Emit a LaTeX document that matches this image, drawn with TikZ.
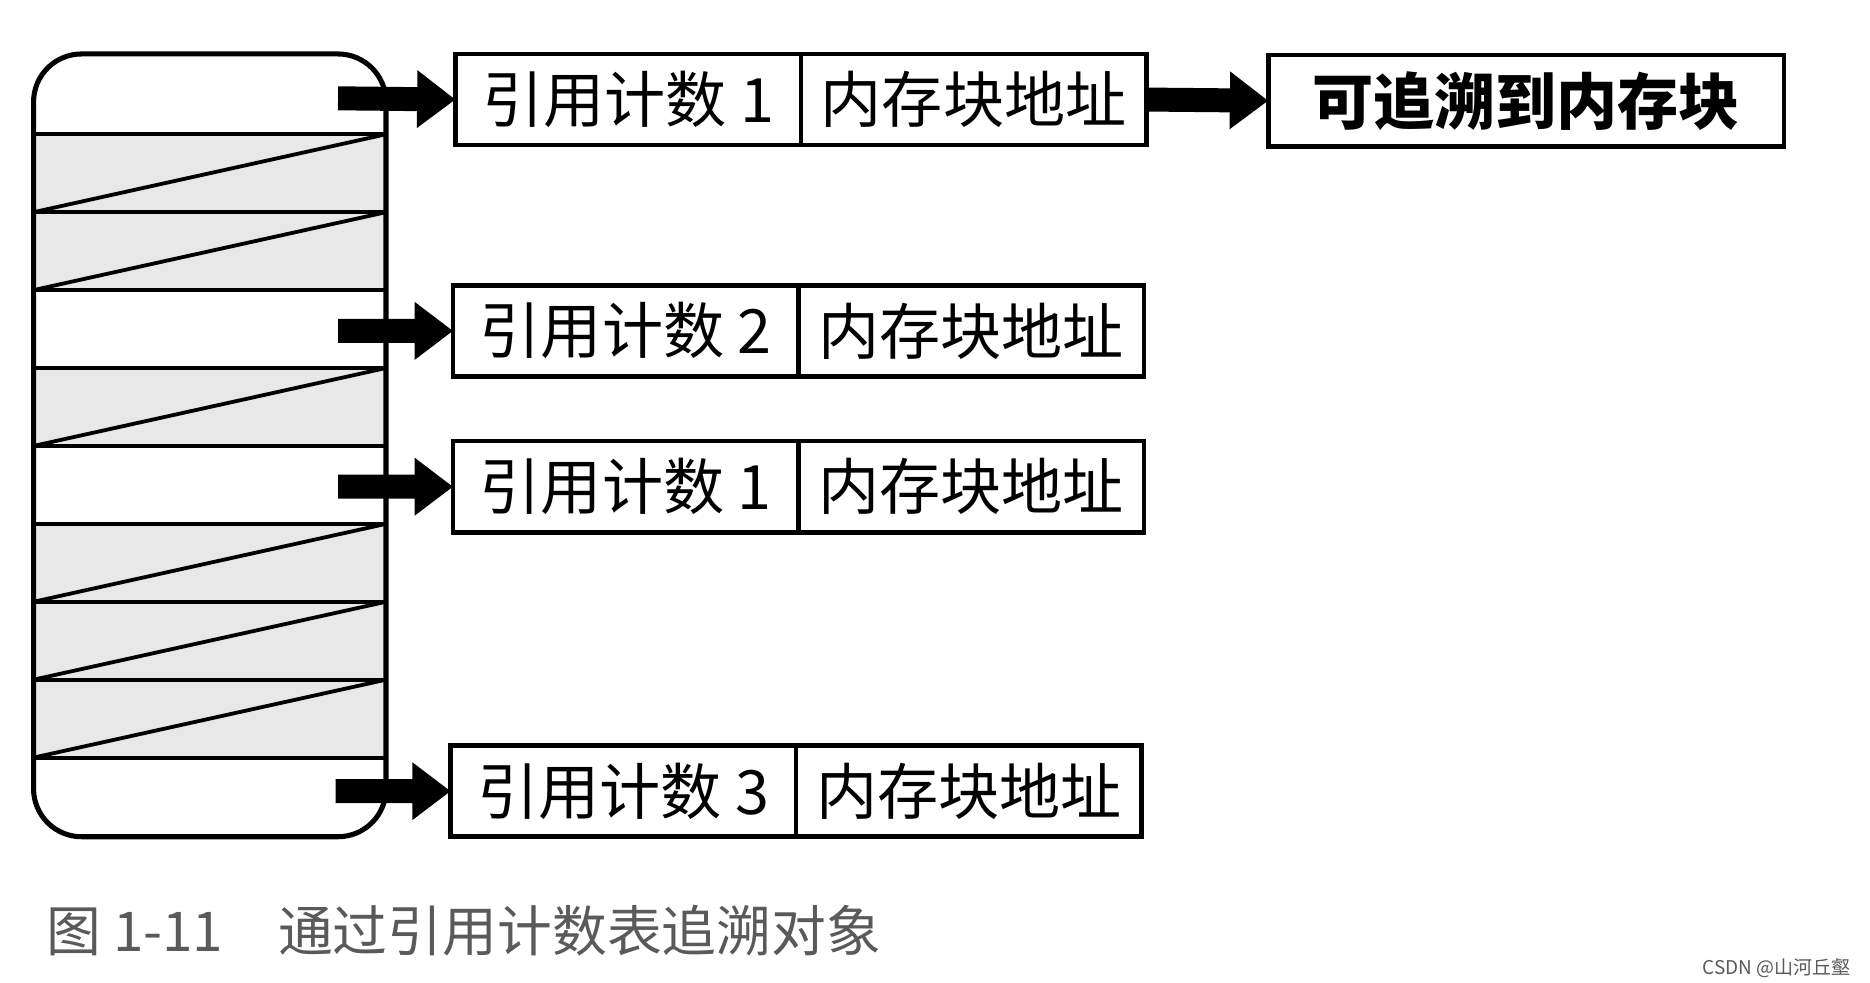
\documentclass[tikz,border=0pt]{standalone}
\usepackage{fontspec}
\setmainfont{Noto Sans CJK SC}
\usetikzlibrary{arrows.meta, positioning}
\definecolor{rowgray}{RGB}{232, 232, 232}
\definecolor{capgray}{RGB}{90, 90, 90}
\begin{document}
\begin{tikzpicture}[
    x=0.01cm, y=-0.01cm,
    cell/.style={rectangle, draw, line width=1.1pt, minimum height=0.76cm, inner sep=0pt, outer sep=0pt, font=\fontsize{14.5}{15}\selectfont},
    countbox/.style={cell, minimum width=2.88cm},
    addrbox/.style={cell, minimum width=2.88cm},
    fatarrow/.style={-{Triangle[length=0.32cm, width=0.46cm]}, line width=0.2cm}
]
    \useasboundingbox (0,0) rectangle (1560,820);
    % table rows
    \foreach \t in {112,177,307,437,502,567}
        \fill[rowgray] (28,\t) rectangle (322,\t+65);
    \foreach \t in {112,177,307,437,502,567}
        \draw[line width=0.9pt] (28,\t+65) -- (322,\t);
    \foreach \t in {112,177,242,307,372,437,502,567,632}
        \draw[line width=0.9pt] (28,\t) -- (322,\t);
    \draw[line width=1.2pt, rounded corners=0.4cm] (28,45) rectangle (322,698);

    % entries
    \node[countbox, anchor=north west] (cnt1) at (380,45) {引用计数 1};
    \node[addrbox, right=0pt of cnt1] (addr1) {内存块地址};
    \node[countbox, anchor=north west] (cnt2) at (378,238) {引用计数 2};
    \node[addrbox, right=0pt of cnt2] (addr2) {内存块地址};
    \node[countbox, anchor=north west] (cnt3) at (378,368) {引用计数 1};
    \node[addrbox, right=0pt of cnt3] (addr3) {内存块地址};
    \node[countbox, anchor=north west] (cnt4) at (376,622) {引用计数 3};
    \node[addrbox, right=0pt of cnt4] (addr4) {内存块地址};
    \node[cell, minimum width=4.3cm, font=\fontsize{14.5}{15}\selectfont\bfseries, anchor=north west] (block) at (1058,46) {可追溯到内存块};

    % arrows
    \coordinate (from1) at (282,82);
    \coordinate (from2) at (282,276);
    \coordinate (from3) at (282,406);
    \coordinate (from4) at (280,660);
    \draw[fatarrow] (from1) -- (cnt1.west);
    \draw[fatarrow] (from2) -- (cnt2.west);
    \draw[fatarrow] (from3) -- (cnt3.west);
    \draw[fatarrow] (from4) -- (cnt4.west);
    \draw[fatarrow] (addr1.east) -- (block.west);

    % caption
    \node[anchor=west, text=capgray, font=\fontsize{13}{13}\selectfont] (caption) at (26,776) {图 1-11\quad 通过引用计数表追溯对象};
    \node[anchor=east, text=capgray, font=\fontsize{4.5}{5}\selectfont] (mark) at (1556,808) {CSDN @山河丘壑};
\end{tikzpicture}
\end{document}
